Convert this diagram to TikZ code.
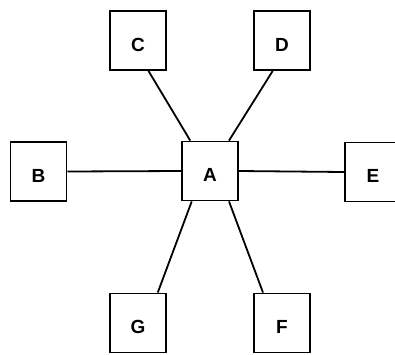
\documentclass[tikz,border=0pt]{standalone}
\usepackage{fontspec}
\setmainfont{Liberation Sans}
% letter set slightly below the middle of its box
\newcommand{\boxletter}[1]{\raisebox{-4pt}[13.6pt][0pt]{#1}}
\begin{document}
\begin{tikzpicture}[x=1pt, y=-1pt,
  box/.style={draw, line width=1.8pt, minimum width=56pt, minimum height=59pt,
    inner sep=0pt, font=\fontsize{19}{19}\selectfont\bfseries},
  link/.style={line width=1.8pt}]
  \useasboundingbox[fill=white] (0,0) rectangle (395,354);
  % hub and spokes
  \node[box] (A) at (210,171) {\boxletter{A}};
  \node[box] (B) at (38.5,171.5) {\boxletter{B}};
  \node[box] (C) at (138,40.5) {\boxletter{C}};
  \node[box] (D) at (282,40.5) {\boxletter{D}};
  \node[box] (E) at (373,172) {\boxletter{E}};
  \node[box] (F) at (282,323) {\boxletter{F}};
  \node[box] (G) at (138,323) {\boxletter{G}};
  % connectors
  \draw[link] (B.east) -- (A.west);
  \draw[link] (A.east) -- (E.west);
  \draw[link] (C.-71.8) -- (A.123.2);
  \draw[link] (D.253.6) -- (A.58.2);
  \draw[link] (G.57.7) -- (A.239.6);
  \draw[link] (F.122.3) -- (A.-58.2);
\end{tikzpicture}
\end{document}
